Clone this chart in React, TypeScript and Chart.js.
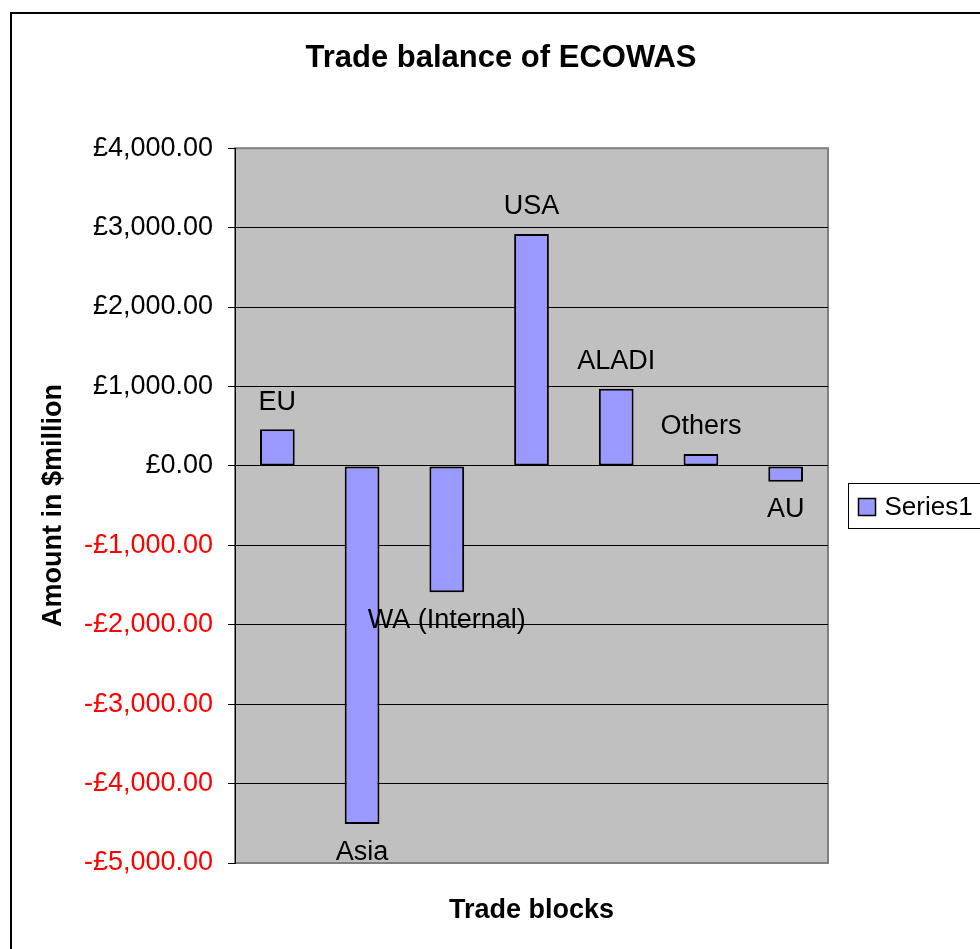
import React, { useEffect, useRef } from 'react';
import { Chart, registerables } from 'chart.js';

Chart.register(...registerables);

const categories = ['EU', 'Asia', 'WA (Internal)', 'USA', 'ALADI', 'Others', 'AU'];
const values = [460, -4510, -1590, 2920, 970, 150, -200];
const seriesName = 'Series1';
const yMin = -5000;
const yMax = 4000;
const yStep = 1000;

const chartTitle = 'Trade balance of ECOWAS';
const xTitle = 'Trade blocks';
const yTitle = 'Amount in $million';

const FONT = "'Liberation Sans', Arial, Helvetica, sans-serif";
const BAR_COLOR = '#9999ff';

function fmt(v: number): string {
  const a = Math.abs(v).toFixed(2);
  const [i, d] = a.split('.');
  const ii = i.replace(/\B(?=(\d{3})+(?!\d))/g, ',');
  return (v < 0 ? '-' : '') + '£' + ii + '.' + d;
}

const backgroundPlugin = {
  id: 'bgPlot',
  beforeDraw(chart: any) {
    const { ctx, chartArea } = chart;
    ctx.save();
    ctx.fillStyle = '#ffffff';
    ctx.fillRect(0, 0, chart.width, chart.height);
    ctx.fillStyle = '#c0c0c0';
    ctx.fillRect(chartArea.left, chartArea.top, chartArea.right - chartArea.left, chartArea.bottom - chartArea.top);
    ctx.strokeStyle = '#808080';
    ctx.lineWidth = 2;
    ctx.strokeRect(chartArea.left, chartArea.top, chartArea.right - chartArea.left, chartArea.bottom - chartArea.top);
    // outer chart border
    ctx.strokeStyle = '#000000';
    ctx.lineWidth = 2;
    ctx.strokeRect(11, 13, chart.width + 20, chart.height + 20);
    ctx.restore();
  },
};

const labelPlugin = {
  id: 'barLabels',
  afterDatasetsDraw(chart: any) {
    const { ctx } = chart;
    const meta = chart.getDatasetMeta(0);
    const data = chart.data.datasets[0].data as number[];
    const labels = chart.data.labels as string[];
    ctx.save();
    ctx.font = `27px ${FONT}`;
    ctx.fillStyle = '#000000';
    ctx.textAlign = 'center';
    ctx.textBaseline = 'middle';
    meta.data.forEach((bar: any, i: number) => {
      const v = data[i];
      const y = v >= 0 ? bar.y - 27 : bar.y + 28;
      ctx.fillText(labels[i], bar.x, y);
    });
    ctx.restore();
  },
};

const legendPlugin = {
  id: 'customLegend',
  afterDraw(chart: any) {
    const { ctx, chartArea } = chart;
    const ds = chart.data.datasets[0];
    const left = chartArea.right + 20.5;
    const top = 483.5;
    ctx.save();
    ctx.strokeStyle = '#000000';
    ctx.lineWidth = 1;
    ctx.strokeRect(left, top, 160, 45);
    ctx.fillStyle = ds.backgroundColor;
    ctx.fillRect(left + 10, top + 15, 17, 17);
    ctx.lineWidth = 1.5;
    ctx.strokeRect(left + 10, top + 15, 17, 17);
    ctx.fillStyle = '#000000';
    ctx.font = `26px ${FONT}`;
    ctx.textAlign = 'left';
    ctx.textBaseline = 'middle';
    ctx.fillText(ds.label, left + 36, top + 24);
    ctx.restore();
  },
};

export default function App() {
  const ref = useRef<HTMLCanvasElement | null>(null);

  useEffect(() => {
    if (!ref.current) return;
    const chart = new Chart(ref.current, {
      type: 'bar',
      data: {
        labels: categories,
        datasets: [
          {
            label: seriesName,
            data: values,
            backgroundColor: BAR_COLOR,
            borderColor: '#000000',
            borderWidth: 2,
            borderSkipped: false,
            barPercentage: 0.41,
            categoryPercentage: 1,
          },
        ],
      },
      options: {
        responsive: false,
        animation: false,
        devicePixelRatio: 1,
        layout: { padding: { left: 22, top: 0, right: 0, bottom: 0 } },
        plugins: {
          legend: { display: false },
          tooltip: { enabled: false },
          title: {
            display: true,
            text: chartTitle,
            color: '#000000',
            font: { family: FONT, size: 31, weight: 'bold' },
            padding: { top: 40, bottom: 71 },
          },
        },
        scales: {
          x: {
            type: 'category',
            grid: { display: false },
            border: { display: false },
            ticks: { display: false },
            title: {
              display: true,
              text: xTitle,
              color: '#000000',
              font: { family: FONT, size: 27, weight: 'bold' },
              padding: { top: 0, bottom: 22 },
            },
            afterFit: (s: any) => {
              s.height = 86;
            },
          },
          y: {
            type: 'linear',
            position: 'left',
            min: yMin,
            max: yMax,
            ticks: {
              stepSize: yStep,
              padding: 15,
              color: (c: any) => (c.tick && c.tick.value < 0 ? '#ff0000' : '#000000'),
              font: { family: FONT, size: 27 },
              callback: (v: any) => fmt(Number(v)),
            },
            grid: {
              color: (c: any) =>
                c.tick && (c.tick.value === yMax || c.tick.value === yMin) ? 'rgba(0,0,0,0)' : '#000000',
              lineWidth: 1,
              tickLength: 7,
              tickColor: '#000000',
              drawTicks: true,
            },
            border: { display: true, color: '#000000', width: 1 },
            title: {
              display: true,
              text: yTitle,
              color: '#000000',
              font: { family: FONT, size: 27, weight: 'bold' },
              padding: { top: 15, bottom: 0 },
            },
            afterFit: (s: any) => {
              s.width = 213;
            },
          },
          yr: {
            type: 'linear',
            position: 'right',
            display: true,
            grid: { display: false },
            border: { display: false },
            ticks: { display: false },
            afterFit: (s: any) => {
              s.width = 152;
            },
          },
        },
      } as any,
      plugins: [backgroundPlugin, labelPlugin, legendPlugin],
    });
    return () => chart.destroy();
  }, []);

  return (
    <div style={{ position: 'absolute', left: 0, top: 0, width: 980, height: 949 }}>
      <canvas ref={ref} width={980} height={949} style={{ display: 'block' }} />
    </div>
  );
}
